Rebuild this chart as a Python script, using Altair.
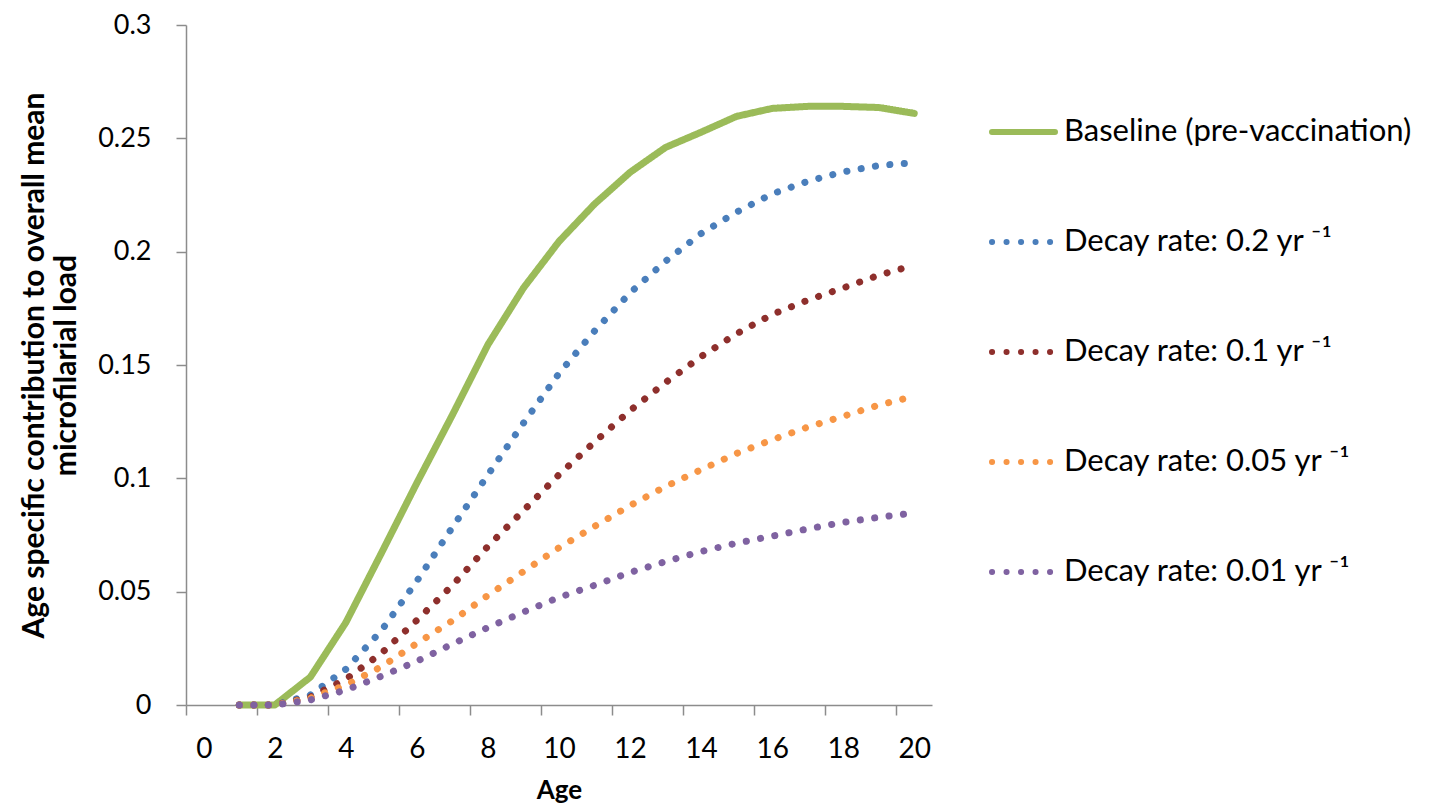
import altair as alt
import pandas as pd

# ---- data ----
ages = list(range(1, 21))

baseline = [0, 0, 0.0123, 0.0364, 0.067, 0.098, 0.128, 0.159, 0.184, 0.2045,
            0.221, 0.235, 0.246, 0.2527, 0.2597, 0.2632, 0.2641, 0.2641, 0.2636, 0.2610]
decay_02 = [0, 0, 0.0044, 0.0158, 0.0328, 0.0547, 0.0784, 0.1016, 0.1244, 0.1463,
            0.165, 0.1818, 0.1958, 0.208, 0.2175, 0.2255, 0.231, 0.2352, 0.238, 0.2393]
decay_01 = [0, 0, 0.0035, 0.0114, 0.0228, 0.0374, 0.0528, 0.070, 0.0858, 0.1016,
            0.116, 0.1299, 0.1423, 0.1537, 0.1638, 0.1723, 0.1786, 0.184, 0.1896, 0.194]
decay_005 = [0, 0, 0.003, 0.0088, 0.0169, 0.0272, 0.0372, 0.0484, 0.0589, 0.0694,
             0.0788, 0.088, 0.0964, 0.1038, 0.111, 0.117, 0.1226, 0.1274, 0.1323, 0.1362]
decay_001 = [0, 0, 0.0022, 0.0066, 0.0127, 0.0193, 0.0269, 0.0342, 0.041, 0.0475,
             0.0528, 0.0585, 0.0633, 0.0677, 0.0714, 0.0745, 0.0777, 0.0806, 0.0828, 0.0847]

series_names = [
    "Baseline (pre-vaccination)",
    "Decay rate: 0.2 yr \u207b\u00b9",
    "Decay rate: 0.1 yr \u207b\u00b9",
    "Decay rate: 0.05 yr \u207b\u00b9",
    "Decay rate: 0.01 yr \u207b\u00b9",
]
series_values = [baseline, decay_02, decay_01, decay_005, decay_001]

x_tick_values = [-0.5 + 2 * k for k in range(11)]
x_label_values = list(range(0, 21, 2))
y_tick_values = [0, 0.05, 0.1, 0.15, 0.2, 0.25, 0.3]

# ---- styles ----
colors = ["#9BBB59", "#4A7EBB", "#8E2F2C", "#F79646", "#7F62A1"]
dashes = [[1, 0], [0.1, 14.4], [0.1, 14.4], [0.1, 14.4], [0.1, 14.4]]

rows = []
for name, vals in zip(series_names, series_values):
    for a, v in zip(ages, vals):
        rows.append({"series": name, "age": a, "value": v})
df = pd.DataFrame(rows)
legend_df = pd.DataFrame({"series": series_names})

FONT = "Lato"
AXIS_GRAY = "#8c8c8c"

color_enc = alt.Color("series:N", scale=alt.Scale(domain=series_names, range=colors), legend=None)
dash_enc = alt.StrokeDash("series:N", scale=alt.Scale(domain=series_names, range=dashes), legend=None)

y_axis = alt.Axis(
    values=y_tick_values, format="~g", grid=False,
    tickSize=10, tickColor=AXIS_GRAY, tickWidth=1.5,
    domainColor=AXIS_GRAY, domainWidth=1.5,
    labelFont=FONT, labelFontSize=27, labelColor="black", labelPadding=25,
    title=["Age specific contribution to overall mean", "microfilarial load"],
    titleFont=FONT, titleFontSize=30, titleFontWeight="bold", titleColor="black",
    titleLineHeight=32, titlePadding=16,
)
y_scale = alt.Scale(domain=[0, 0.3], nice=False, zero=True)

x_scale = alt.Scale(domain=[-0.5, 20.5], nice=False, zero=False)
x_axis_ticks = alt.Axis(
    orient="bottom", values=x_tick_values, labels=False, grid=False,
    tickSize=10, tickColor=AXIS_GRAY, tickWidth=1.5,
    domainColor=AXIS_GRAY, domainWidth=1.5, title=None,
)
x_axis_labels = alt.Axis(
    orient="bottom", values=x_label_values, ticks=False, domain=False, grid=False,
    labelFont=FONT, labelFontSize=28, labelColor="black", labelPadding=30, format="d",
    title="Age", titleFont=FONT, titleFontSize=26, titleFontWeight="bold",
    titleColor="black", titlePadding=14,
)

layers = []
for i, name in enumerate(series_names):
    xa = x_axis_ticks if i == 0 else (x_axis_labels if i == 1 else None)
    layer = (
        alt.Chart(df)
        .transform_filter(alt.datum.series == name)
        .mark_line(strokeWidth=7, strokeCap="round", strokeJoin="round")
        .encode(
            x=alt.X("age:Q", scale=x_scale, axis=xa),
            y=alt.Y("value:Q", scale=y_scale, axis=y_axis),
            color=color_enc,
            strokeDash=dash_enc,
        )
    )
    layers.append(layer)

main = alt.layer(*layers).resolve_axis(x="independent")

# ---- legend drawn from the series list through a point scale ----
legend_y = alt.Y(
    "series:N",
    scale=alt.Scale(type="point", domain=series_names, range=[107, 547], padding=0),
    axis=None,
)
legend_symbols = (
    alt.Chart(legend_df)
    .mark_rule(strokeWidth=6, strokeCap="round")
    .encode(x=alt.value(806), x2=alt.value(869), y=legend_y,
            color=color_enc, strokeDash=dash_enc)
)
legend_labels = (
    alt.Chart(legend_df)
    .mark_text(align="left", baseline="middle", font=FONT, fontSize=31, color="black")
    .encode(x=alt.value(878), y=legend_y, text="series:N")
)
legend = alt.layer(legend_symbols, legend_labels)

chart = (
    alt.layer(main, legend)
    .resolve_scale(y="independent")
    .properties(
        width=746, height=680,
        autosize=alt.AutoSizeParams(type="none"),
        padding={"left": 178, "top": 17, "right": 489, "bottom": 99},
    )
    .configure_view(stroke=None)
)

chart.save("out.html", embed_options={"renderer": "svg", "actions": False})
